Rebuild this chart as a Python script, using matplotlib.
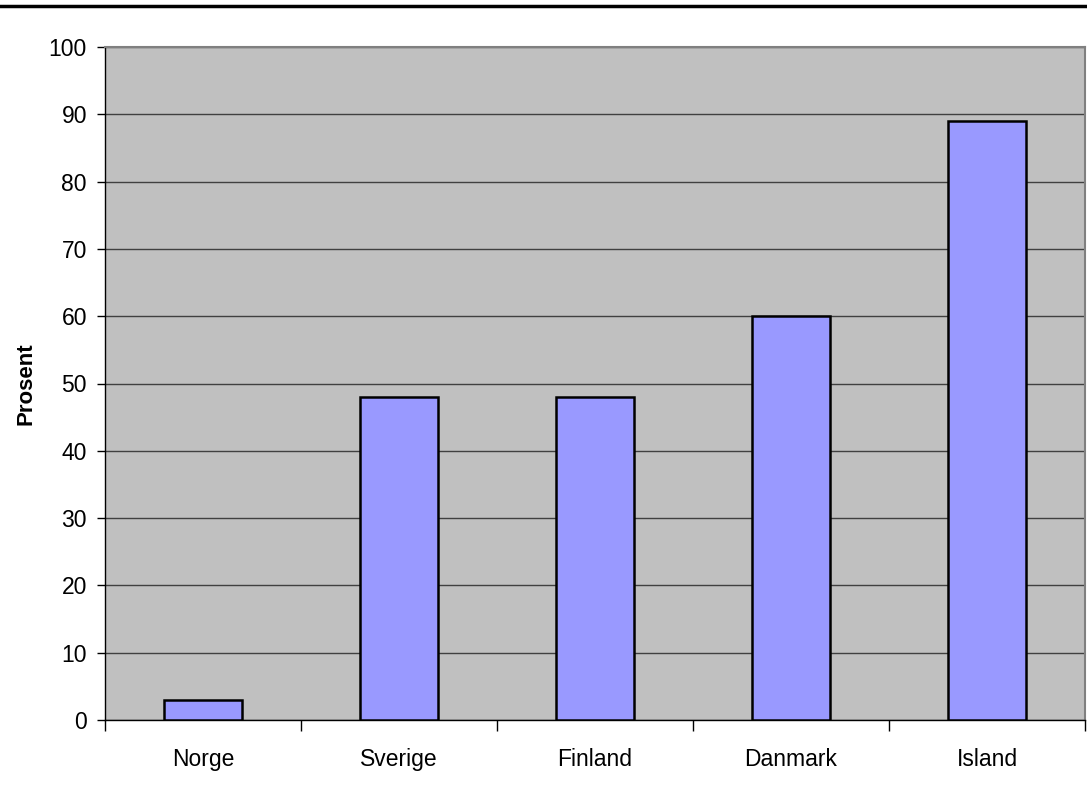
import matplotlib
matplotlib.use("Agg")
import matplotlib.pyplot as plt
from matplotlib.lines import Line2D

categories = ["Norge", "Sverige", "Finland", "Danmark", "Island"]
values = [3, 48, 48, 60, 89]
yticks = [0, 10, 20, 30, 40, 50, 60, 70, 80, 90, 100]

plt.rcParams['font.family'] = ['Liberation Sans', 'DejaVu Sans']

W, H = 1087, 800
fig = plt.figure(figsize=(W / 100, H / 100), dpi=100)
ax = fig.add_axes([105 / W, 1 - 720 / H, (1085 - 105) / W, (720 - 47) / H])
ax.set_facecolor("#c0c0c0")

x = list(range(len(categories)))
ax.bar(x, values, width=0.4, color="#9999ff", edgecolor="black", linewidth=1.8, zorder=3)

ax.set_xlim(-0.5, len(categories) - 0.5)
ax.set_ylim(0, 100)
ax.set_yticks(yticks)
ax.set_yticklabels([str(v) for v in yticks], fontsize=16.5)
ax.yaxis.grid(True, color="#404040", linewidth=1.0, zorder=1)
ax.set_axisbelow(True)

ax.set_xticks(x)
ax.set_xticklabels(categories, fontsize=16.5)
ax.tick_params(axis="x", length=0, pad=20)
ax.set_xticks([i + 0.5 for i in range(-1, len(categories))], minor=True)
ax.tick_params(axis="x", which="minor", length=8, width=1, direction="out")
ax.tick_params(axis="y", length=6, width=1, direction="out", pad=7)

for s in ["left", "bottom"]:
    ax.spines[s].set_color("black")
    ax.spines[s].set_linewidth(1.0)
for s in ["top", "right"]:
    ax.spines[s].set_color("#808080")
    ax.spines[s].set_linewidth(1.5)

ax.set_ylabel("Prosent", fontsize=16, fontweight="bold", labelpad=9)

fig.add_artist(Line2D([0, 1], [1 - 5.5 / H, 1 - 5.5 / H], color="black", linewidth=2.5, transform=fig.transFigure))

fig.savefig("out.png", dpi=100)
